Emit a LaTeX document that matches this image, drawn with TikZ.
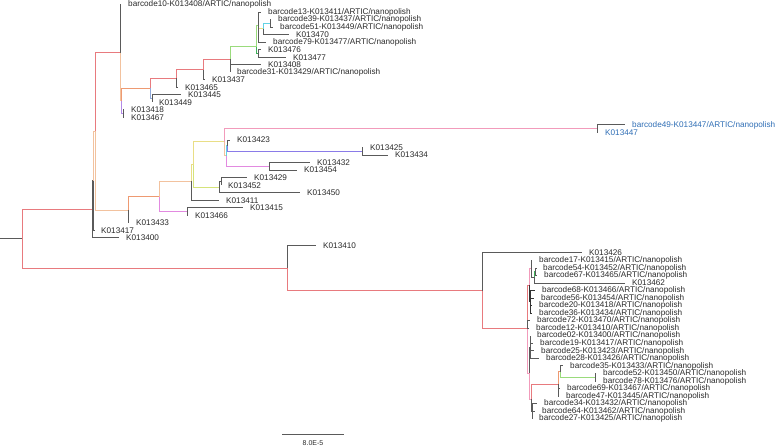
\documentclass[tikz,border=0pt]{standalone}
\usepackage{fontspec}
\setmainfont{Liberation Sans}

\definecolor{redbr}{HTML}{E87A7E}
\definecolor{pinkbr}{HTML}{F29BBB}
\definecolor{peachbr}{HTML}{F2C29E}
\definecolor{orangebr}{HTML}{EE9A72}
\definecolor{greenbr}{HTML}{9ADB7C}
\definecolor{dgreenbr}{HTML}{3FAF5A}
\definecolor{yellowbr}{HTML}{E9DE86}
\definecolor{ygreenbr}{HTML}{D5E37A}
\definecolor{cyanbr}{HTML}{63D3E3}
\definecolor{bluebr}{HTML}{8A7BE8}
\definecolor{magbr}{HTML}{E28AE0}
\definecolor{lavbr}{HTML}{B48AE8}
\definecolor{lbluebr}{HTML}{8FA9DA}
\definecolor{tipgray}{HTML}{5A5A5A}
\definecolor{dkgray}{HTML}{333333}
\definecolor{txtgray}{HTML}{2A2A2A}
\definecolor{txtblue}{HTML}{2F6EB5}

\begin{document}
\begin{tikzpicture}[x=1pt,y=-7.53pt]
%%%%%%%%%%%%%%%%%%%%%%%%%%%%%%%%%%%%%%%%%%%%%%%%%%%%%%%%
% STYLE
\tikzstyle{leaf}=[anchor=west,inner xsep=7pt,inner ysep=0pt,font=\fontsize{8.2}{9}\selectfont,text=txtgray]
\tikzstyle{bleaf}=[leaf,text=txtblue]
\tikzstyle{scl}=[inner sep=0pt,font=\fontsize{7}{8}\selectfont,text=txtgray]

\tikzset{br/.style={line width=1pt,draw=#1}, br/.default=tipgray}

\useasboundingbox (0,-0.598) rectangle (777,58.63);

%%%%%%%%%%%%%%%%%%%%%%%%%%%%%%%%%%%%%%%%%%%%%%%%%%%%%%%%
% NODES
\node[leaf] (L00) at (121, 0) {barcode10-K013408/ARTIC/nanopolish};
\node[leaf] (L01) at (261, 1) {barcode13-K013411/ARTIC/nanopolish};
\node[leaf] (L02) at (271, 2) {barcode39-K013437/ARTIC/nanopolish};
\node[leaf] (L03) at (273, 3) {barcode51-K013449/ARTIC/nanopolish};
\node[leaf] (L04) at (289, 4) {K013470};
\node[leaf] (L05) at (266, 5) {barcode79-K013477/ARTIC/nanopolish};
\node[leaf] (L06) at (261, 6) {K013476};
\node[leaf] (L07) at (286, 7) {K013477};
\node[leaf] (L08) at (261, 8) {K013408};
\node[leaf] (L09) at (230, 9) {barcode31-K013429/ARTIC/nanopolish};
\node[leaf] (L10) at (205,10) {K013437};
\node[leaf] (L11) at (178,11) {K013465};
\node[leaf] (L12) at (181,12) {K013445};
\node[leaf] (L13) at (152,13) {K013449};
\node[leaf] (L14) at (124,14) {K013418};
\node[leaf] (L15) at (124,15) {K013467};

\node[bleaf] (L16) at (625,16) {barcode49-K013447/ARTIC/nanopolish};
\node[bleaf] (L17) at (598,17) {K013447};
\node[leaf] (L18) at (230,18) {K013423};
\node[leaf] (L19) at (363,19) {K013425};
\node[leaf] (L20) at (388,20) {K013434};
\node[leaf] (L21) at (310,21) {K013432};
\node[leaf] (L22) at (297,22) {K013454};
\node[leaf] (L23) at (247,23) {K013429};
\node[leaf] (L24) at (221,24) {K013452};
\node[leaf] (L25) at (300,25) {K013450};
\node[leaf] (L26) at (219,26) {K013411};
\node[leaf] (L27) at (243,27) {K013415};
\node[leaf] (L28) at (188,28) {K013466};
\node[leaf] (L29) at (129,29) {K013433};
\node[leaf] (L30) at (94, 30) {K013417};
\node[leaf] (L31) at (119,31) {K013400};
\node[leaf] (L32) at (316,32) {K013410};

\node[leaf] (L33) at (582,33) {K013426};
\node[leaf] (L34) at (532,34) {barcode17-K013415/ARTIC/nanopolish};
\node[leaf] (L35) at (536,35) {barcode54-K013452/ARTIC/nanopolish};
\node[leaf] (L36) at (537,36) {barcode67-K013465/ARTIC/nanopolish};
\node[leaf] (L37) at (625,37) {K013462};
\node[leaf] (L38) at (535,38) {barcode68-K013466/ARTIC/nanopolish};
\node[leaf] (L39) at (534,39) {barcode56-K013454/ARTIC/nanopolish};
\node[leaf] (L40) at (532,40) {barcode20-K013418/ARTIC/nanopolish};
\node[leaf] (L41) at (532,41) {barcode36-K013434/ARTIC/nanopolish};
\node[leaf] (L42) at (530,42) {barcode72-K013470/ARTIC/nanopolish};
\node[leaf] (L43) at (529,43) {barcode12-K013410/ARTIC/nanopolish};
\node[leaf] (L44) at (530,44) {barcode02-K013400/ARTIC/nanopolish};
\node[leaf] (L45) at (533,45) {barcode19-K013417/ARTIC/nanopolish};
\node[leaf] (L46) at (534,46) {barcode25-K013423/ARTIC/nanopolish};
\node[leaf] (L47) at (539,47) {barcode28-K013426/ARTIC/nanopolish};
\node[leaf] (L48) at (563,48) {barcode35-K013433/ARTIC/nanopolish};
\node[leaf] (L49) at (596,49) {barcode52-K013450/ARTIC/nanopolish};
\node[leaf] (L50) at (596,50) {barcode78-K013476/ARTIC/nanopolish};
\node[leaf] (L51) at (560,51) {barcode69-K013467/ARTIC/nanopolish};
\node[leaf] (L52) at (559,52) {barcode47-K013445/ARTIC/nanopolish};
\node[leaf] (L53) at (537,53) {barcode34-K013432/ARTIC/nanopolish};
\node[leaf] (L54) at (535,54) {barcode64-K013462/ARTIC/nanopolish};
\node[leaf] (L55) at (532,55) {barcode27-K013425/ARTIC/nanopolish};

% inner nodes
\coordinate (R0) at (0,31.1);
\coordinate (R) at (22,31.1);
\coordinate (A) at (92,27.2);
\coordinate (A1) at (93.5,23.4);
\coordinate (A2) at (95,16.8);
\coordinate (U) at (120,6.4);
\coordinate (U2) at (121.5,12.8);
\coordinate (P) at (123,14.5);
\coordinate (W) at (150,11.15);
\coordinate (Wb) at (152,12.5);
\coordinate (W1) at (176,9.8);
\coordinate (W2) at (203,8.65);
\coordinate (W3) at (230,7.3);
\coordinate (G) at (256,5.6);
\coordinate (G1) at (258,2.8);
\coordinate (Gb) at (258,6.5);
\coordinate (G2) at (263,3.25);
\coordinate (G3) at (270,2.5);
\coordinate (C) at (128,27.3);
\coordinate (Z) at (159,25.55);
\coordinate (Y) at (191,23.5);
\coordinate (Ya) at (193,21.25);
\coordinate (Gy) at (219,24.25);
\coordinate (Gz) at (221,23.5);
\coordinate (Q) at (187,27.5);
\coordinate (M) at (224,18.25);
\coordinate (M2) at (226,20.1);
\coordinate (M3) at (227,18.75);
\coordinate (B1) at (362,19.5);
\coordinate (P1) at (269,21.5);
\coordinate (X) at (597,16.5);
\coordinate (K) at (287,35);
\coordinate (BR) at (482,38);
\coordinate (BC) at (527,43);
\coordinate (BU) at (529,37.3);
\coordinate (BU1) at (531,35.1);
\coordinate (BU3) at (534,36.25);
\coordinate (BU4) at (535.5,35.5);
\coordinate (BU2) at (530,39.5);
\coordinate (BL) at (529,49);
\coordinate (BL1) at (530,45.5);
\coordinate (BL2) at (531,52.4);
\coordinate (BL4) at (532,54);
\coordinate (S) at (558,50.4);
\coordinate (S2) at (560,48.75);
\coordinate (T) at (595,49.5);

% scale
\coordinate (SB0) at (282,57.17);
\coordinate (SB1) at (344,57.17);
\node[scl] (sclbl) at (313,58.23) {8.0E-5};

%%%%%%%%%%%%%%%%%%%%%%%%%%%%%%%%%%%%%%%%%%%%%%%%%%%%%%%%
% LINKS
\draw[br] (R0) -- (R);
\draw[br=redbr] (R) |- (A);
\draw[br=redbr] (R) |- (K);

\draw[br] (A) |- (A1);
\draw[br] (A) |- (L31.west);
\draw[br=peachbr] (A1) |- (A2);
\draw[br] (A1) |- (L30.west);
\draw[br=redbr] (A2) |- (U);
\draw[br=peachbr] (A2) |- (C);

% upper clade
\draw[br] (U) |- (L00.west);
\draw[br=peachbr] (U) |- (U2);
\draw[br=orangebr] (U2) |- (W);
\draw[br=lavbr] (U2) |- (P);
\draw[br] (P) |- (L14.west);
\draw[br] (P) |- (L15.west);
\draw[br=redbr] (W) |- (W1);
\draw[br=lbluebr] (W) |- (Wb);
\draw[br] (Wb) |- (L12.west);
\draw[br] (Wb) |- (L13.west);
\draw[br=redbr] (W1) |- (W2);
\draw[br] (W1) |- (L11.west);
\draw[br=redbr] (W2) |- (W3);
\draw[br] (W2) |- (L10.west);
\draw[br=greenbr] (W3) |- (G);
\draw[br] (W3) |- (L08.west);
\draw[br] (W3) |- (L09.west);
\draw[br=greenbr] (G) |- (G1);
\draw[br=dgreenbr] (G) |- (Gb);
\draw[br] (Gb) |- (L06.west);
\draw[br] (Gb) |- (L07.west);
\draw[br] (G1) |- (L01.west);
\draw[br=yellowbr] (G1) |- (G2);
\draw[br] (G1) |- (L05.west);
\draw[br=cyanbr] (G2) |- (G3);
\draw[br] (G2) |- (L04.west);
\draw[br] (G3) |- (L02.west);
\draw[br] (G3) |- (L03.west);

% middle clade
\draw[br=orangebr] (C) |- (Z);
\draw[br] (C) |- (L29.west);
\draw[br=peachbr] (Z) |- (Y);
\draw[br=magbr] (Z) |- (Q);
\draw[br] (Q) |- (L27.west);
\draw[br] (Q) |- (L28.west);
\draw[br=yellowbr] (Y) |- (Ya);
\draw[br] (Y) |- (L26.west);
\draw[br=yellowbr] (Ya) |- (M);
\draw[br=ygreenbr] (Ya) |- (Gy);
\draw[br] (Gy) |- (Gz);
\draw[br] (Gy) |- (L25.west);
\draw[br] (Gz) |- (L23.west);
\draw[br] (Gz) |- (L24.west);
\draw[br=pinkbr] (M) |- (X);
\draw[br=peachbr] (M) |- (M2);
\draw[br=cyanbr] (M2) |- (M3);
\draw[br=magbr] (M2) |- (P1);
\draw[br] (M3) |- (L18.west);
\draw[br=bluebr] (M3) |- (B1);
\draw[br] (B1) |- (L19.west);
\draw[br] (B1) |- (L20.west);
\draw[br] (P1) |- (L21.west);
\draw[br] (P1) |- (L22.west);
\draw[br] (X) |- (L16.west);
\draw[br] (X) |- (L17.west);

% lower clade
\draw[br] (K) |- (L32.west);
\draw[br=redbr] (K) |- (BR);
\draw[br] (BR) |- (L33.west);
\draw[br=redbr] (BR) |- (BC);
\draw[br=redbr] (BC) |- (BU);
\draw[br=pinkbr] (BC) |- (BL);
\draw[br] (BC) |- (L42.west);
\draw[br] (BC) |- (L43.west);
\draw[br=pinkbr] (BU) |- (BU1);
\draw[br=dkgray] (BU) |- (BU2);
\draw[br] (BU1) |- (L34.west);
\draw[br] (BU1) |- (BU3);
\draw[br=dgreenbr] (BU3) |- (BU4);
\draw[br] (BU3) |- (L37.west);
\draw[br] (BU4) |- (L35.west);
\draw[br] (BU4) |- (L36.west);
\foreach \i in {38,39,40,41} \draw[br=dkgray] (BU2) |- (L\i.west);
\draw[br] (BL) |- (BL1);
\draw[br=pinkbr] (BL) |- (BL2);
\foreach \i in {44,45,46,47} \draw[br] (BL1) |- (L\i.west);
\draw[br=redbr] (BL2) |- (S);
\draw[br] (BL2) |- (BL4);
\foreach \i in {53,54,55} \draw[br] (BL4) |- (L\i.west);
\draw[br=orangebr] (S) |- (S2);
\draw[br] (S) |- (L51.west);
\draw[br] (S) |- (L52.west);
\draw[br] (S2) |- (L48.west);
\draw[br=greenbr] (S2) |- (T);
\draw[br] (T) |- (L49.west);
\draw[br] (T) |- (L50.west);

\draw[br] (SB0) -- (SB1);
\end{tikzpicture}
\end{document}
